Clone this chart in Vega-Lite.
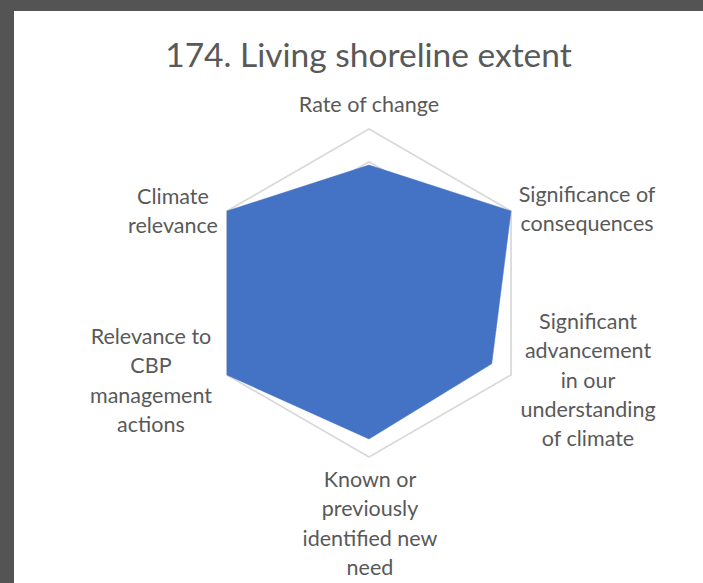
{
  "$schema": "https://vega.github.io/schema/vega-lite/v6.json",
  "width": 689,
  "height": 572,
  "autosize": {"type": "none"},
  "padding": {"left": 14, "top": 11, "right": 0, "bottom": 0},
  "background": "#545454",
  "view": {"fill": "#ffffff", "stroke": null},
  "title": {
    "text": "174. Living shoreline extent",
    "font": "Lato",
    "fontSize": 33.5,
    "fontWeight": "normal",
    "color": "#595959",
    "anchor": "middle",
    "dx": 10,
    "baseline": "alphabetic",
    "offset": -89
  },
  "datasets": {
    "scores": [
      {"criterion": "Rate of change", "label": "Rate of change", "idx": 0, "score": 3.9},
      {"criterion": "Significance of consequences", "label": "Significance of\nconsequences", "idx": 1, "score": 5},
      {"criterion": "Significant advancement in our understanding of climate", "label": "Significant\nadvancement\nin our\nunderstanding\nof climate", "idx": 2, "score": 4.32},
      {"criterion": "Known or previously identified new need", "label": "Known or\npreviously\nidentified new\nneed", "idx": 3, "score": 4.45},
      {"criterion": "Relevance to CBP management actions", "label": "Relevance to\nCBP\nmanagement\nactions", "idx": 4, "score": 5},
      {"criterion": "Climate relevance", "label": "Climate\nrelevance", "idx": 5, "score": 5}
    ],
    "grid": [
      {"level": 1, "spoke": [0, 1, 2, 3, 4, 5]},
      {"level": 2, "spoke": [0, 1, 2, 3, 4, 5]},
      {"level": 3, "spoke": [0, 1, 2, 3, 4, 5]},
      {"level": 4, "spoke": [0, 1, 2, 3, 4, 5]},
      {"level": 5, "spoke": [0, 1, 2, 3, 4, 5]}
    ]
  },
  "data": {"name": "scores"},
  "encoding": {
    "x": {"field": "px", "type": "quantitative", "axis": null, "scale": {"domain": [-2.1646, 2.0366], "zero": false, "nice": false}},
    "y": {"field": "py", "type": "quantitative", "axis": null, "scale": {"domain": [-1.7683, 1.7195], "zero": false, "nice": false}}
  },
  "layer": [
    {
      "data": {"name": "grid"},
      "transform": [
        {"flatten": ["spoke"]},
        {"calculate": "datum.level / 5 * sin(datum.spoke * PI / 3)", "as": "px"},
        {"calculate": "datum.level / 5 * cos(datum.spoke * PI / 3)", "as": "py"}
      ],
      "mark": {"type": "line", "interpolate": "linear-closed", "stroke": "#d9d9d9", "strokeWidth": 1.75},
      "encoding": {
        "detail": {"field": "level", "type": "nominal"},
        "order": {"field": "spoke", "type": "quantitative"}
      }
    },
    {
      "transform": [
        {"calculate": "datum.score / 5 * sin(datum.idx * PI / 3)", "as": "px"},
        {"calculate": "datum.score / 5 * cos(datum.idx * PI / 3)", "as": "py"}
      ],
      "mark": {"type": "line", "interpolate": "linear-closed", "fill": "#4472C4", "stroke": "#4472C4", "strokeWidth": 0.5},
      "encoding": {
        "order": {"field": "idx", "type": "quantitative"},
        "tooltip": [{"field": "criterion", "type": "nominal"}, {"field": "score", "type": "quantitative"}]
      }
    },
    {
      "transform": [
        {"filter": "datum.idx == 0"},
        {"calculate": "sin(datum.idx * PI / 3)", "as": "px"},
        {"calculate": "cos(datum.idx * PI / 3)", "as": "py"}
      ],
      "mark": {"type": "text", "font": "Lato", "fontSize": 21.5, "color": "#595959", "align": "center", "baseline": "alphabetic", "lineBreak": "\n", "lineHeight": 29.3, "dx": 0, "dy": -17},
      "encoding": {"text": {"field": "label", "type": "nominal"}}
    },
    {
      "transform": [
        {"filter": "datum.idx == 1"},
        {"calculate": "sin(datum.idx * PI / 3)", "as": "px"},
        {"calculate": "cos(datum.idx * PI / 3)", "as": "py"}
      ],
      "mark": {"type": "text", "font": "Lato", "fontSize": 21.5, "color": "#595959", "align": "center", "baseline": "alphabetic", "lineBreak": "\n", "lineHeight": 29.3, "dx": 76, "dy": -9},
      "encoding": {"text": {"field": "label", "type": "nominal"}}
    },
    {
      "transform": [
        {"filter": "datum.idx == 2"},
        {"calculate": "sin(datum.idx * PI / 3)", "as": "px"},
        {"calculate": "cos(datum.idx * PI / 3)", "as": "py"}
      ],
      "mark": {"type": "text", "font": "Lato", "fontSize": 21.5, "color": "#595959", "align": "center", "baseline": "alphabetic", "lineBreak": "\n", "lineHeight": 29.3, "dx": 77, "dy": -46},
      "encoding": {"text": {"field": "label", "type": "nominal"}}
    },
    {
      "transform": [
        {"filter": "datum.idx == 3"},
        {"calculate": "sin(datum.idx * PI / 3)", "as": "px"},
        {"calculate": "cos(datum.idx * PI / 3)", "as": "py"}
      ],
      "mark": {"type": "text", "font": "Lato", "fontSize": 21.5, "color": "#595959", "align": "center", "baseline": "alphabetic", "lineBreak": "\n", "lineHeight": 29.3, "dx": 1, "dy": 30},
      "encoding": {"text": {"field": "label", "type": "nominal"}}
    },
    {
      "transform": [
        {"filter": "datum.idx == 4"},
        {"calculate": "sin(datum.idx * PI / 3)", "as": "px"},
        {"calculate": "cos(datum.idx * PI / 3)", "as": "py"}
      ],
      "mark": {"type": "text", "font": "Lato", "fontSize": 21.5, "color": "#595959", "align": "center", "baseline": "alphabetic", "lineBreak": "\n", "lineHeight": 29.3, "dx": -76, "dy": -31},
      "encoding": {"text": {"field": "label", "type": "nominal"}}
    },
    {
      "transform": [
        {"filter": "datum.idx == 5"},
        {"calculate": "sin(datum.idx * PI / 3)", "as": "px"},
        {"calculate": "cos(datum.idx * PI / 3)", "as": "py"}
      ],
      "mark": {"type": "text", "font": "Lato", "fontSize": 21.5, "color": "#595959", "align": "center", "baseline": "alphabetic", "lineBreak": "\n", "lineHeight": 29.3, "dx": -54, "dy": -7},
      "encoding": {"text": {"field": "label", "type": "nominal"}}
    }
  ]
}
